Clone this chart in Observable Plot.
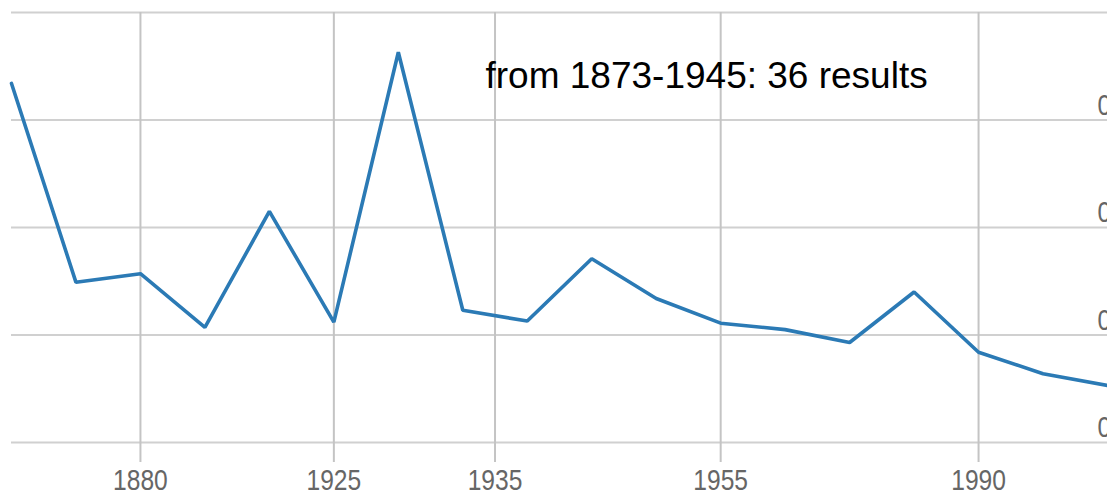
<!DOCTYPE html>
<html>
<head>
<meta charset="utf-8">
<script src="https://cdn.jsdelivr.net/npm/d3@7"></script>
<script src="https://cdn.jsdelivr.net/npm/@observablehq/plot@0.6"></script>
<style>
  html, body { margin: 0; padding: 0; background: #fff; overflow: hidden; }
  #chart svg { overflow: hidden; }
</style>
</head>
<body>
<div id="chart"></div>
<script>
// Period index (position of each data bin along the x axis)
const bins = [0, 1, 2, 3, 4, 5, 6, 7, 8, 9, 10, 11, 12, 13, 14, 15, 16, 17];
// Relative frequency per bin
const freq = [0.0334, 0.0149, 0.0157, 0.0107, 0.0215, 0.0112, 0.0363, 0.0123, 0.0113,
              0.0171, 0.0134, 0.0111, 0.0105, 0.0093, 0.0140, 0.0084, 0.0064, 0.0053];
// X axis ticks (bin position) and their labels
const xTickPos = [2, 5, 7.5, 11, 15];
const xTickLabels = ["1880", "1925", "1935", "1955", "1990"];
// Y axis gridlines and labelled ticks
const yGrid = [0, 0.01, 0.02, 0.03, 0.04];
const yLabelled = [0, 0.01, 0.02, 0.03];
const annotation = "from 1873-1945: 36 results";

const data = bins.map((b, i) => ({bin: b, value: freq[i]}));
const tickLabel = new Map(xTickPos.map((p, i) => [p, xTickLabels[i]]));

const sans = "'Liberation Sans', Arial, sans-serif";

const chart = Plot.plot({
  width: 1107,
  height: 491,
  marginLeft: 11,
  marginRight: 0,
  marginTop: 12,
  marginBottom: 49,
  style: {background: "#fff", maxWidth: "none", overflow: "hidden"},
  x: {type: "linear", domain: [bins[0], bins[bins.length - 1]]},
  y: {domain: [yGrid[0], yGrid[yGrid.length - 1]]},
  marks: [
    Plot.gridY(yGrid, {stroke: "#d0d0d0", strokeOpacity: 1, strokeWidth: 2}),
    Plot.gridX(xTickPos, {stroke: "#c4c4c4", strokeOpacity: 1, strokeWidth: 2}),
    Plot.axisX(xTickPos, {
      tickSize: 20, tickPadding: 6, stroke: "#c4c4c4", strokeWidth: 2,
      tickFormat: d => tickLabel.get(d), label: null,
      fontSize: 30, fontFamily: sans, fill: "#666", className: "narrowx"
    }),
    Plot.axisY(yLabelled, {
      anchor: "right", tickSize: 0, tickPadding: 0, dx: -10, dy: -15,
      tickFormat: d3.format(".2f"), label: null,
      fontSize: 30, fontFamily: sans, fill: "#666", className: "narrowy"
    }),
    Plot.line(data, {x: "bin", y: "value", stroke: "#2b7ab5", strokeWidth: 3.6, strokeLinejoin: "miter"}),
    Plot.text([annotation], {
      frameAnchor: "top-left", textAnchor: "start", lineAnchor: "top",
      dx: 474, dy: 49, fontSize: 37, fill: "#000", fontFamily: sans
    })
  ]
});
// condense the tick label glyphs horizontally, like the narrow face of the original
d3.select(chart).selectAll("text").each(function () {
  const g = this.closest("g");
  if (!g) return;
  const aria = g.getAttribute("aria-label") || "";
  if (aria.includes("tick label")) {
    const t = this.getAttribute("transform") || "";
    this.setAttribute("transform", t + " scale(0.82,1)");
  }
});
document.getElementById("chart").appendChild(chart);
</script>
</body>
</html>
